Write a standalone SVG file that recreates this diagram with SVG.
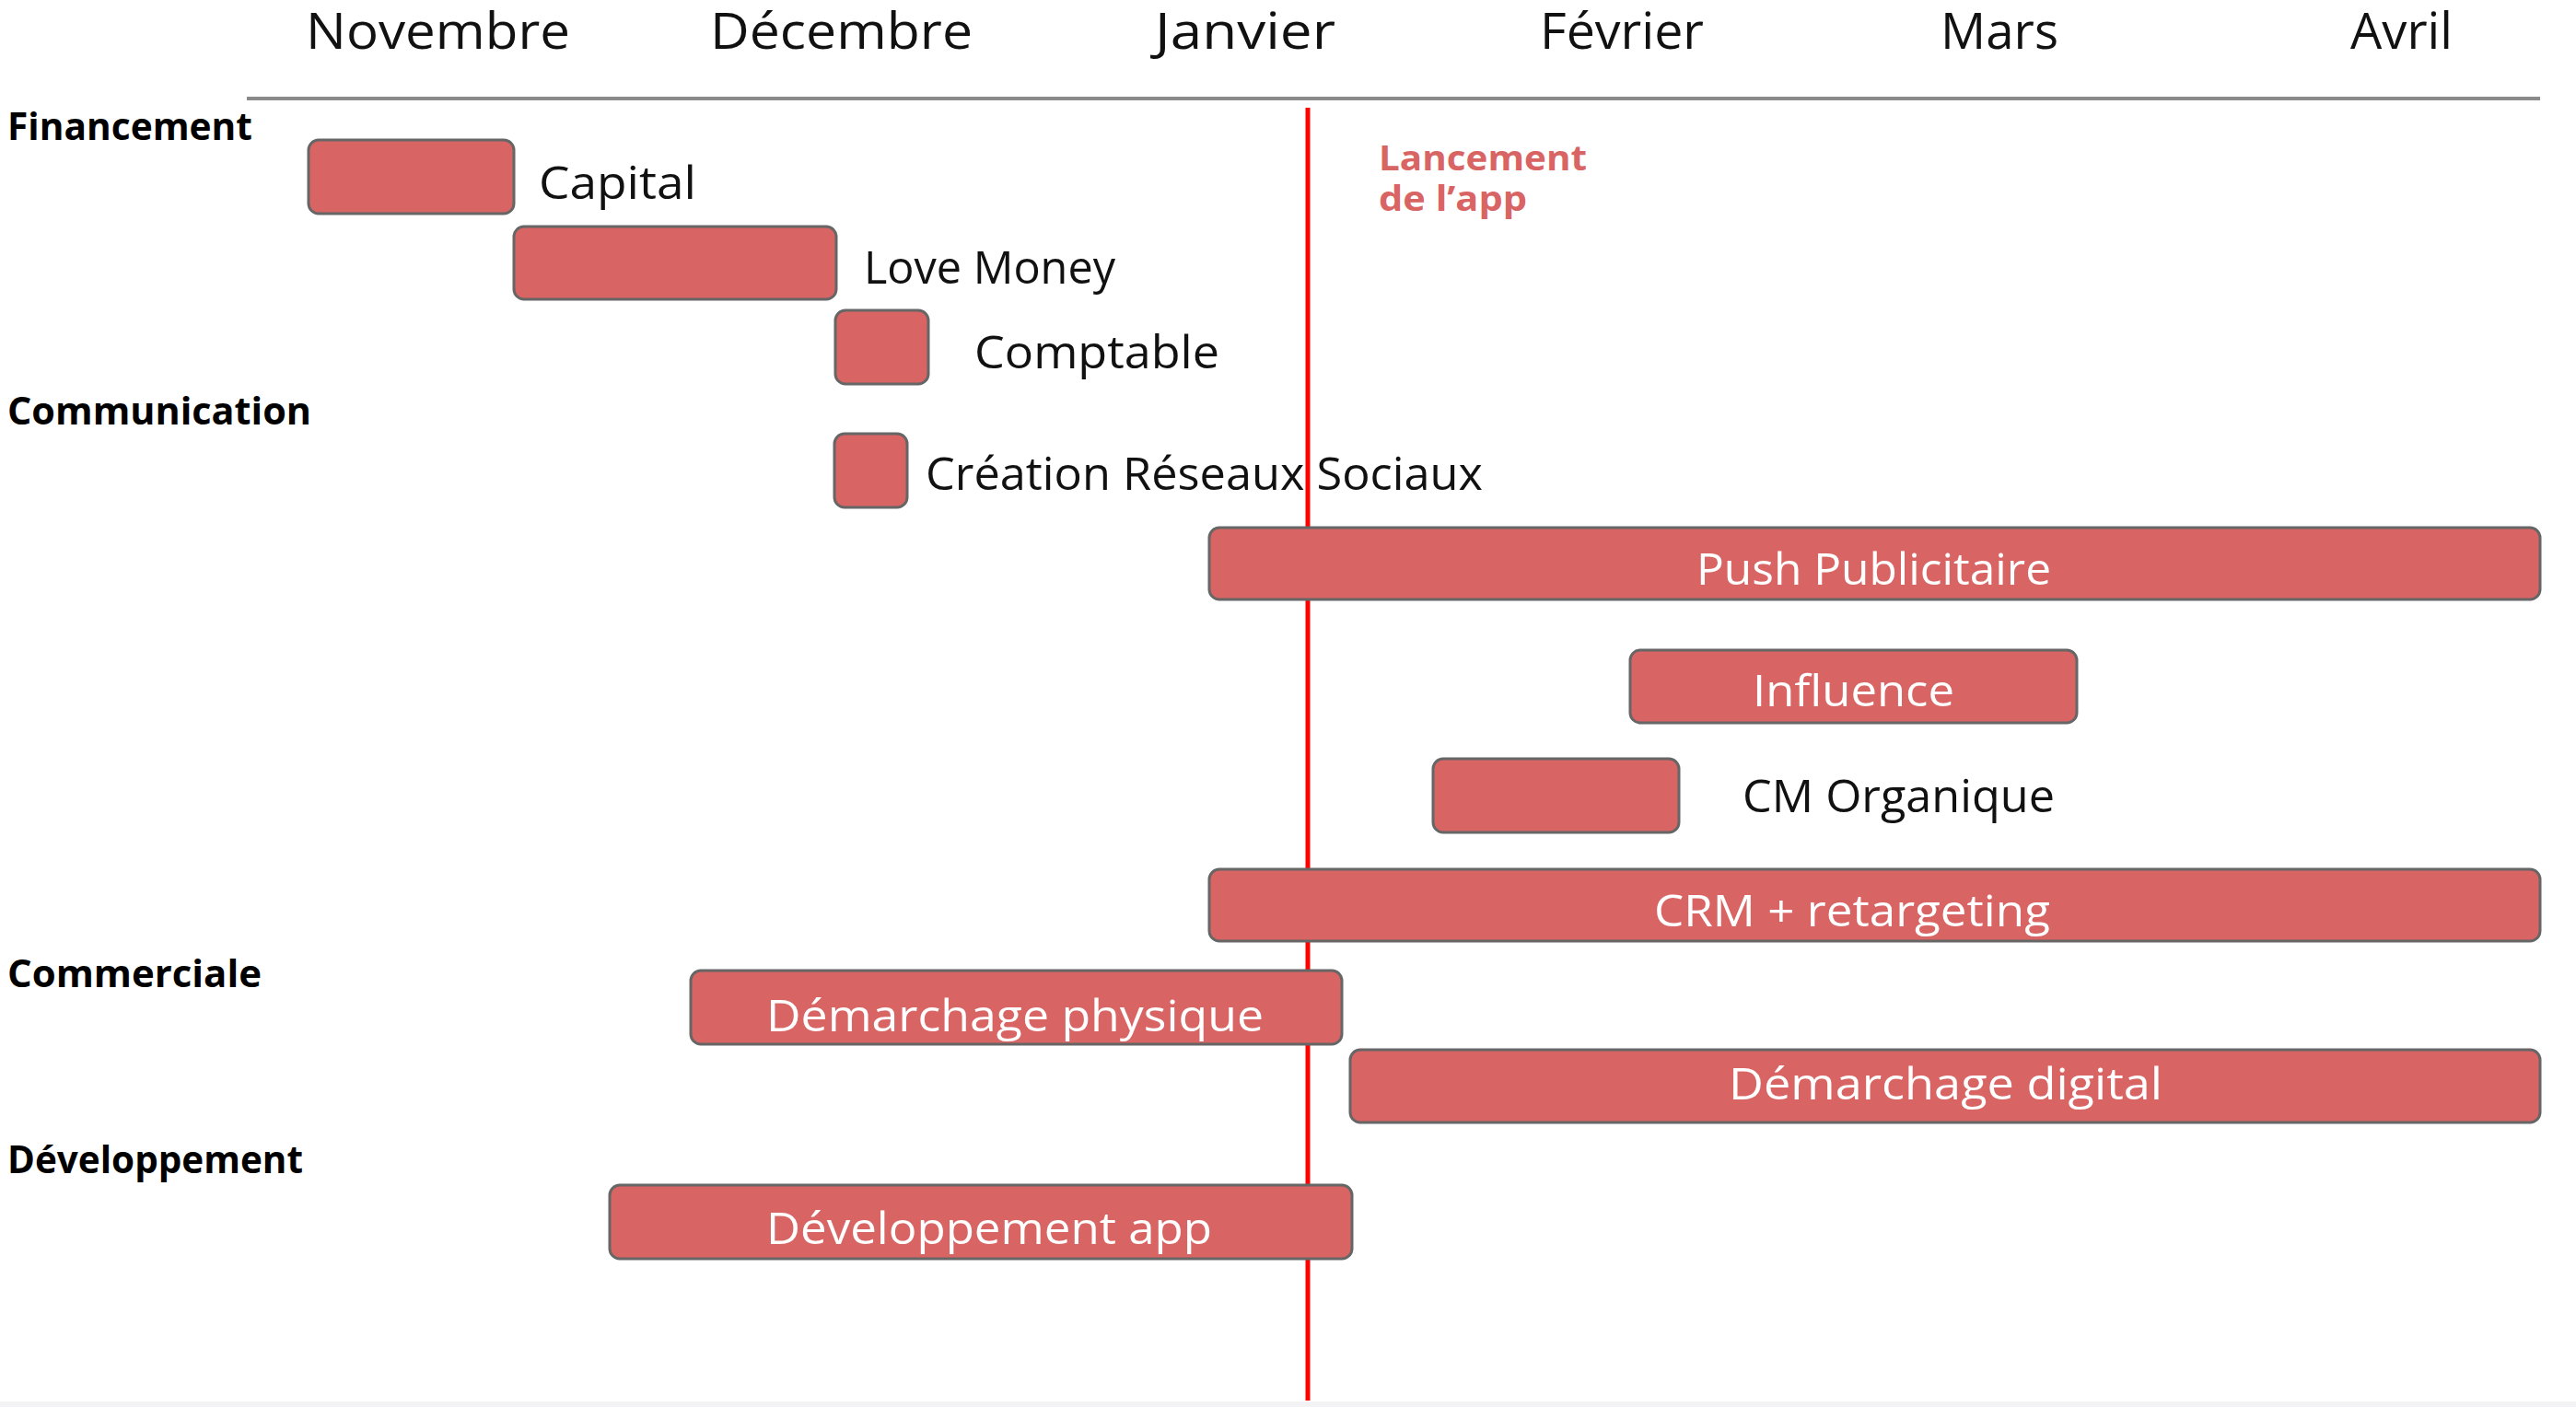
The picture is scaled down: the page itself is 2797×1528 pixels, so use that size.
<svg xmlns="http://www.w3.org/2000/svg" width="2797" height="1528" viewBox="0 0 2797 1528">
<style>
text{font-family:"Open Sans","Noto Sans","Liberation Sans",sans-serif;}
.month{font-size:54px;fill:#111;}
.cat{font-size:42px;font-weight:700;fill:#000;}
.lbl{font-size:50px;fill:#111;}
.bar{fill:#d96464;stroke:#666;stroke-width:3;}
.in{font-size:47px;fill:#fff;}
.launch{font-size:38px;font-weight:700;fill:#d96464;}
</style>
<rect x="0" y="0" width="2797" height="1528" fill="#fff"/>
<rect x="0" y="1522" width="2797" height="6" fill="#f3f3f5"/>
<g id="months">
<text class="month" x="332" y="53" textLength="287" lengthAdjust="spacingAndGlyphs">Novembre</text>
<text class="month" x="771" y="53" textLength="285" lengthAdjust="spacingAndGlyphs">Décembre</text>
<text class="month" x="1254" y="53" textLength="196" lengthAdjust="spacingAndGlyphs">Janvier</text>
<text class="month" x="1672" y="53" textLength="178" lengthAdjust="spacingAndGlyphs">Février</text>
<text class="month" x="2107" y="53" textLength="128" lengthAdjust="spacingAndGlyphs">Mars</text>
<text class="month" x="2552" y="53" textLength="111" lengthAdjust="spacingAndGlyphs">Avril</text>
</g>
<line x1="268" y1="107" x2="2758" y2="107" stroke="#8a8a8a" stroke-width="4"/>
<g id="categories">
<text class="cat" x="8" y="152" textLength="266" lengthAdjust="spacingAndGlyphs">Financement</text>
<text class="cat" x="8" y="461" textLength="330" lengthAdjust="spacingAndGlyphs">Communication</text>
<text class="cat" x="8" y="1072" textLength="276" lengthAdjust="spacingAndGlyphs">Commerciale</text>
<text class="cat" x="8" y="1274" textLength="321" lengthAdjust="spacingAndGlyphs">Développement</text>
</g>
<g id="connectors">
<line id="launch-line" x1="1420" y1="117" x2="1420" y2="1521" stroke="#ff0000" stroke-width="5"/>
</g>
<g id="launch">
<text class="launch"><tspan x="1497" y="185" textLength="226" lengthAdjust="spacingAndGlyphs">Lancement</tspan><tspan x="1497" y="229" textLength="161" lengthAdjust="spacingAndGlyphs">de l’app</tspan></text>
</g>
<g id="capital">
<rect class="bar" x="335" y="152" width="223" height="80" rx="11"/>
<text class="lbl" x="585" y="216" textLength="171" lengthAdjust="spacingAndGlyphs">Capital</text>
</g>
<g id="love-money">
<rect class="bar" x="558" y="246" width="350" height="79" rx="11"/>
<text class="lbl" x="938" y="308" textLength="273" lengthAdjust="spacingAndGlyphs">Love Money</text>
</g>
<g id="comptable">
<rect class="bar" x="907" y="337" width="101" height="80" rx="11"/>
<text class="lbl" x="1058" y="400" textLength="266" lengthAdjust="spacingAndGlyphs">Comptable</text>
</g>
<g id="creation-reseaux">
<rect class="bar" x="906" y="471" width="79" height="80" rx="11"/>
<text class="lbl" x="1005" y="532" textLength="605" lengthAdjust="spacingAndGlyphs">Création Réseaux Sociaux</text>
</g>
<g id="push">
<rect class="bar" x="1313" y="573" width="1445" height="78" rx="11"/>
<text class="in" x="1842" y="635" textLength="385" lengthAdjust="spacingAndGlyphs">Push Publicitaire</text>
</g>
<g id="influence">
<rect class="bar" x="1770" y="706" width="485" height="79" rx="11"/>
<text class="in" x="1903" y="767" textLength="219" lengthAdjust="spacingAndGlyphs">Influence</text>
</g>
<g id="cm-organique">
<rect class="bar" x="1556" y="824" width="267" height="80" rx="11"/>
<text class="lbl" x="1892" y="882" textLength="339" lengthAdjust="spacingAndGlyphs">CM Organique</text>
</g>
<g id="crm">
<rect class="bar" x="1313" y="944" width="1445" height="78" rx="11"/>
<text class="in" x="1796" y="1006" textLength="430" lengthAdjust="spacingAndGlyphs">CRM + retargeting</text>
</g>
<g id="demarchage-physique">
<rect class="bar" x="750" y="1054" width="707" height="80" rx="11"/>
<text class="in" x="832" y="1120" textLength="540" lengthAdjust="spacingAndGlyphs">Démarchage physique</text>
</g>
<g id="demarchage-digital">
<rect class="bar" x="1466" y="1140" width="1292" height="79" rx="11"/>
<text class="in" x="1877" y="1194" textLength="471" lengthAdjust="spacingAndGlyphs">Démarchage digital</text>
</g>
<g id="dev-app">
<rect class="bar" x="662" y="1287" width="806" height="80" rx="11"/>
<text class="in" x="832" y="1351" textLength="484" lengthAdjust="spacingAndGlyphs">Développement app</text>
</g>
</svg>
